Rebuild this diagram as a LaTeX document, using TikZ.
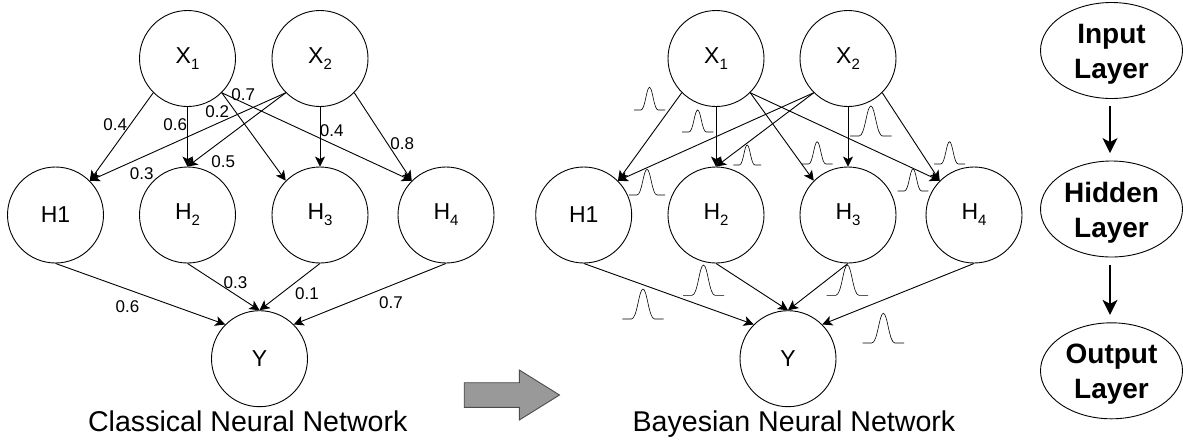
\documentclass[tikz,border=0pt]{standalone}
\usepackage{fontspec}
\setmainfont{Liberation Sans}
\usetikzlibrary{arrows.meta,shapes.geometric}
\newcommand{\fs}[1]{\fontsize{#1}{#1}\selectfont}
\newcommand{\lowidx}[1]{\raisebox{-6pt}{\fs{15}#1}}
\newcommand{\topgap}{\rule{0pt}{27pt}}
\tikzset{
  x=1pt,y=-1pt,
  neuron/.style={circle,draw,line width=0.9pt,minimum size=96pt,inner sep=0pt,font=\fs{23}},
  link/.style={draw,line width=0.9pt,-{Stealth[length=10pt,width=10pt,inset=2.5pt]}},
  wlabel/.style={inner sep=0pt,font=\fs{17}},
  caption/.style={inner sep=0pt,anchor=base,font=\fs{28.6}},
  layer/.style={ellipse,draw,line width=0.9pt,minimum width=142pt,minimum height=96pt,inner sep=0pt,align=center,font=\fontsize{28}{35}\selectfont\bfseries},
  flow/.style={draw,line width=1.4pt,shorten <=7.5pt,shorten >=7.5pt,-{Stealth[length=15pt,width=15pt,inset=4pt]}},
  bump/.style={draw=black,line width=0.6pt},
  gauss/.pic={\path[bump] (0,0) -- (.22,0) .. controls (.36,0) and (.40,-1) .. (.5,-1) .. controls (.60,-1) and (.64,0) .. (.78,0) -- (1,0);},
}
\begin{document}
\begin{tikzpicture}
\useasboundingbox (0,0) rectangle (1183,440);
% classical
\node[neuron] (cx1) at (187.5,58.5) {X\lowidx{1}};
\node[neuron] (cx2) at (320,58.5) {X\lowidx{2}};
\node[neuron] (ch1) at (55.5,215) {H1};
\node[neuron] (ch2) at (187.5,215) {H\lowidx{2}};
\node[neuron] (ch3) at (320,215) {H\lowidx{3}};
\node[neuron] (ch4) at (446,215) {H\lowidx{4}};
\node[neuron] (cy) at (259.5,358.7) {Y};
\path[link] (cx1.225) -- (ch1.45);
\path[link] (cx1.south) -- (ch2.north);
\path[link] (cx1.315) -- (ch3.135);
\path[link] (cx1.315) -- (ch4.135);
\path[link] (cx2.225) -- (ch1.45);
\path[link] (cx2.225) -- (ch2.north);
\path[link] (cx2.south) -- (ch3.north);
\path[link] (cx2.315) -- (ch4.135);
\path[link] (ch1.south) -- (cy.135);
\path[link] (ch2.south) -- (cy.north);
\path[link] (ch3.south) -- (cy.north);
\path[link] (ch4.south) -- (cy.45);
\node[wlabel] (l1) at (115.3,125) {0.4};
\node[wlabel] (l2) at (175.3,125) {0.6};
\node[wlabel] (l3) at (217.3,111.7) {0.2};
\node[wlabel] (l4) at (243.3,94.3) {0.7};
\node[wlabel] (l5) at (331.7,130.7) {0.4};
\node[wlabel] (l6) at (402.3,143.3) {0.8};
\node[wlabel] (l7) at (141.7,173.3) {0.3};
\node[wlabel] (l8) at (223.3,161.7) {0.5};
\node[wlabel] (l9) at (127.4,306.7) {0.6};
\node[wlabel] (l10) at (235.4,282.3) {0.3};
\node[wlabel] (l11) at (307,294) {0.1};
\node[wlabel] (l12) at (391,303) {0.7};
\node[caption] (c1) at (247.8,431.5) {Classical Neural Network};
% block arrow
\path[draw=black!70,fill=black!40,line width=0.9pt] (464.2,382.7) -- (519.3,382.7) -- (519.3,370) -- (559.5,395) -- (519.3,420) -- (519.3,407.3) -- (464.2,407.3) -- cycle;
% bayesian
\node[neuron] (bx1) at (716,58.5) {X\lowidx{1}};
\node[neuron] (bx2) at (848,58.5) {X\lowidx{2}};
\node[neuron] (bh1) at (583.7,215) {H1};
\node[neuron] (bh2) at (716,215) {H\lowidx{2}};
\node[neuron] (bh3) at (848,215) {H\lowidx{3}};
\node[neuron] (bh4) at (974,215) {H\lowidx{4}};
\node[neuron] (by) at (788,358.7) {Y};
\path[link] (bx1.225) -- (bh1.45);
\path[link] (bx1.south) -- (bh2.north);
\path[link] (bx1.315) -- (bh3.135);
\path[link] (bx1.315) -- (bh4.135);
\path[link] (bx2.225) -- (bh1.45);
\path[link] (bx2.225) -- (bh2.north);
\path[link] (bx2.south) -- (bh3.north);
\path[link] (bx2.315) -- (bh4.135);
\path[link] (bh1.south) -- (by.135);
\path[link] (bh2.south) -- (by.north);
\path[link] (bh3.south) -- (by.north);
\path[link] (bh4.south) -- (by.45);
\node[caption] (c2) at (794,431.5) {Bayesian Neural Network};
% distributions
\pic[xscale=31,yscale=22.7] at (634,110) {gauss};
\pic[xscale=31.3,yscale=22] at (682,132) {gauss};
\pic[xscale=27.7,yscale=20] at (733.3,165) {gauss};
\pic[xscale=31,yscale=22.3] at (801.7,164) {gauss};
\pic[xscale=41.7,yscale=30] at (850,136) {gauss};
\pic[xscale=31,yscale=22.3] at (934,164) {gauss};
\pic[xscale=30.6,yscale=22] at (897.7,191) {gauss};
\pic[xscale=36,yscale=25.7] at (629,195) {gauss};
\pic[xscale=41.4,yscale=30] at (622.3,319) {gauss};
\pic[xscale=41,yscale=30.3] at (683,295.3) {gauss};
\pic[xscale=41.3,yscale=30.3] at (826.7,295.3) {gauss};
\pic[xscale=41.3,yscale=29.7] at (862.7,343) {gauss};
% legend
\node[layer] (in) at (1111.5,50.5) {\topgap Input\\Layer};
\node[layer] (hid) at (1111.5,209) {\topgap Hidden\\Layer};
\node[layer] (out) at (1111.5,370.8) {\topgap Output\\Layer};
\path[flow] ([xshift=-1.5pt]in.south) -- ([xshift=-1.5pt]hid.north);
\path[flow] ([xshift=-1.5pt]hid.south) -- ([xshift=-1.5pt]out.north);
\end{tikzpicture}
\end{document}
